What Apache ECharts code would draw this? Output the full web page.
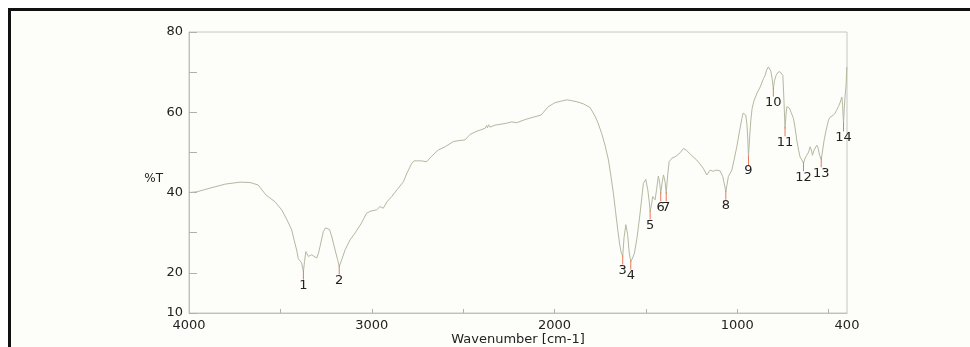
<!DOCTYPE html>
<html>
<head>
<meta charset="utf-8">
<script src="https://cdn.jsdelivr.net/npm/echarts@6/dist/echarts.min.js"></script>
<style>
html,body{margin:0;padding:0;background:#fff;}
#chart{width:970px;height:347px;}
</style>
</head>
<body>
<div id="chart"></div>
<script>
// Wavenumber (cm-1) of each sampled point of the spectrum
const wavenumbers = [4000,3956,3885,3803,3721,3666,3622,3579,3529,3493,3464,3438,3425,3411,3402,3393,3384,3374,3368,3361,3354,3347,3338,3329,3316,3301,3291,3283,3265,3253,3243,3231,3220,3210,3198,3187,3178,3168,3146,3119,3092,3059,3028,3004,2973,2955,2937,2917,2891,2862,2827,2807,2781,2769,2754,2730,2699,2676,2636,2599,2554,2517,2490,2462,2424,2380,2372,2367,2361,2353,2326,2271,2234,2207,2161,2107,2074,2034,1997,1961,1933,1906,1877,1842,1806,1778,1762,1742,1724,1705,1691,1678,1666,1654,1644,1636,1627,1620,1610,1600,1592,1583,1573,1563,1549,1532,1514,1501,1490,1482,1477,1469,1463,1450,1442,1432,1425,1419,1411,1404,1395,1389,1381,1373,1357,1341,1313,1295,1280,1258,1242,1222,1204,1186,1167,1149,1132,1116,1094,1080,1070,1063,1056,1049,1030,1018,1003,990,975,968,961,954,948,943,939,933,926,919,908,892,875,857,848,840,830,821,817,810,803,796,788,777,766,758,751,745,739,734,729,722,715,706,693,684,675,665,657,647,638,629,620,610,602,595,589,580,565,558,550,541,533,525,514,501,492,484,474,465,457,447,437,428,424,419,415,410,405,401];
// Transmittance (%T) at each of those wavenumbers
const transmittance = [40.0,40.2,41.1,42.1,42.6,42.5,41.9,39.4,37.7,35.7,33.2,30.7,28.2,25.7,23.5,23.3,22.5,20.3,22.8,25.3,25.0,24.1,24.2,24.5,24.1,23.7,25.0,26.6,30.3,31.2,31.3,30.8,29.2,27.4,25.2,23.3,21.6,22.8,25.7,28.2,29.9,32.2,34.9,35.4,35.7,36.5,36.1,37.7,39.0,40.7,42.7,44.9,47.3,47.9,47.9,47.9,47.7,48.9,50.6,51.4,52.7,53.0,53.1,54.5,55.3,56.0,56.7,56.1,56.9,56.3,56.8,57.2,57.6,57.4,58.2,58.9,59.3,61.4,62.4,62.8,63.1,62.9,62.6,62.1,61.2,59.0,57.3,54.7,51.8,48.1,43.9,39.8,35.2,30.7,27.2,25.2,24.1,28.7,32.0,29.5,25.2,22.8,23.7,24.9,28.7,34.9,42.3,43.3,40.7,37.7,35.3,37.2,39.0,38.2,40.7,44.1,42.6,39.8,42.6,44.4,42.6,39.8,44.4,47.7,48.6,48.9,49.9,51.0,50.6,49.6,48.9,48.1,47.1,46.0,44.4,45.6,45.3,45.6,45.4,44.0,41.9,40.2,42.1,44.0,45.6,48.1,51.4,54.8,58.5,59.8,60.1,59.3,57.2,53.6,48.9,53.6,58.1,61.0,63.0,64.8,66.3,68.4,69.2,70.5,71.3,71.0,70.3,68.5,65.9,68.0,69.2,70.0,70.1,70.0,69.2,63.0,56.0,59.3,61.4,61.5,61.0,60.0,58.5,56.1,53.1,50.6,48.9,48.1,47.3,48.6,49.3,50.1,51.4,50.6,49.3,50.6,51.8,51.1,49.3,48.3,50.6,53.1,55.6,58.1,58.8,58.6,59.3,59.8,60.5,61.4,62.5,63.8,61.7,57.2,61.0,64.3,66.8,71.3];
// Picked peaks
const peakLabels = ['1','2','3','4','5','6','7','8','9','10','11','12','13','14'];
const peakWavenumbers = [3374,3178,1627,1583,1477,1419,1389,1063,939,803,739,638,541,419];
const peakTransmittance = [20.3,21.6,24.1,22.8,35.3,39.8,39.8,40.2,48.9,65.9,56.0,47.3,48.3,57.2];
// Axis ticks and labels
const xTickValues = [3500,3000,2500,2000,1500,1000,500];
const xLabelValues = [4000,3000,2000,1000,400];
const yLabelValues = [10,20,40,60,80];

const spectrum = wavenumbers.map((w,i)=>[w, transmittance[i]]);
const peaks = peakWavenumbers.map((w,i)=>[w, peakTransmittance[i]]);

const FONT = 'DejaVu Sans';
const chart = echarts.init(document.getElementById('chart'), null, {renderer:'canvas'});
chart.setOption({
  animation: false,
  backgroundColor: '#fdfdfa',
  graphic: [
    {type:'rect', shape:{x:0,y:0,width:970,height:8}, style:{fill:'#ffffff'}, silent:true},
    {type:'rect', shape:{x:0,y:0,width:8,height:347}, style:{fill:'#ffffff'}, silent:true},
    {type:'rect', shape:{x:8,y:8,width:962,height:3}, style:{fill:'#111111'}, silent:true},
    {type:'rect', shape:{x:8,y:8,width:3,height:339}, style:{fill:'#111111'}, silent:true}
  ],
  grid: {
    left: 189, right: 123, top: 32, bottom: 34,
    containLabel: false, outerBoundsMode: 'none',
    show: true, borderColor: '#c6c6c6', borderWidth: 1, backgroundColor: 'transparent'
  },
  xAxis: {
    type: 'value', min: 400, max: 4000, inverse: true,
    name: 'Wavenumber [cm-1]', nameLocation: 'middle', nameGap: 20, nameMoveOverlap: false,
    nameTextStyle: {fontFamily: FONT, fontSize: 13, color: '#222'},
    axisLine: {show: true, lineStyle: {color: '#c0c0c0', width: 1}},
    axisTick: {show: true, inside: true, length: 4, customValues: xTickValues, lineStyle: {color: '#b0b0b0'}},
    axisLabel: {show: true, customValues: xLabelValues, margin: 6, fontFamily: FONT, fontSize: 13, color: '#222',
      showMinLabel: true, showMaxLabel: true, formatter: v => String(v)},
    splitLine: {show: false}
  },
  yAxis: {
    type: 'value', min: 10, max: 80, interval: 10,
    name: '%T', nameLocation: 'middle', nameRotate: 0, nameGap: 26, nameMoveOverlap: false,
    nameTextStyle: {fontFamily: FONT, fontSize: 12, color: '#222', verticalAlign: 'top'},
    axisLine: {show: true, lineStyle: {color: '#c0c0c0', width: 1}},
    axisTick: {show: true, inside: true, length: 8, lineStyle: {color: '#b0b0b0'}},
    axisLabel: {margin: 6, fontFamily: FONT, fontSize: 13, color: '#222',
      formatter: v => yLabelValues.includes(v) ? String(v) : ''},
    splitLine: {show: false}
  },
  series: [
    {
      type: 'line', data: spectrum, showSymbol: false, symbol: 'none',
      lineStyle: {color: '#b3b9a0', width: 1}, z: 2
    },
    {
      type: 'custom', data: peaks, z: 3,
      renderItem: function(params, api) {
        const p = api.coord([api.value(0), api.value(1)]);
        return {
          type: 'group',
          children: [
            {type: 'line', shape: {x1: p[0], y1: p[1] - 1, x2: p[0], y2: p[1] + 8},
              style: {stroke: '#e8785a', lineWidth: 1}},
            {type: 'text', x: p[0], y: p[1] + 14,
              style: {text: peakLabels[params.dataIndex], fill: '#222', font: '13px "DejaVu Sans"',
                align: 'center', verticalAlign: 'middle'}}
          ]
        };
      }
    }
  ]
});
</script>
</body>
</html>
